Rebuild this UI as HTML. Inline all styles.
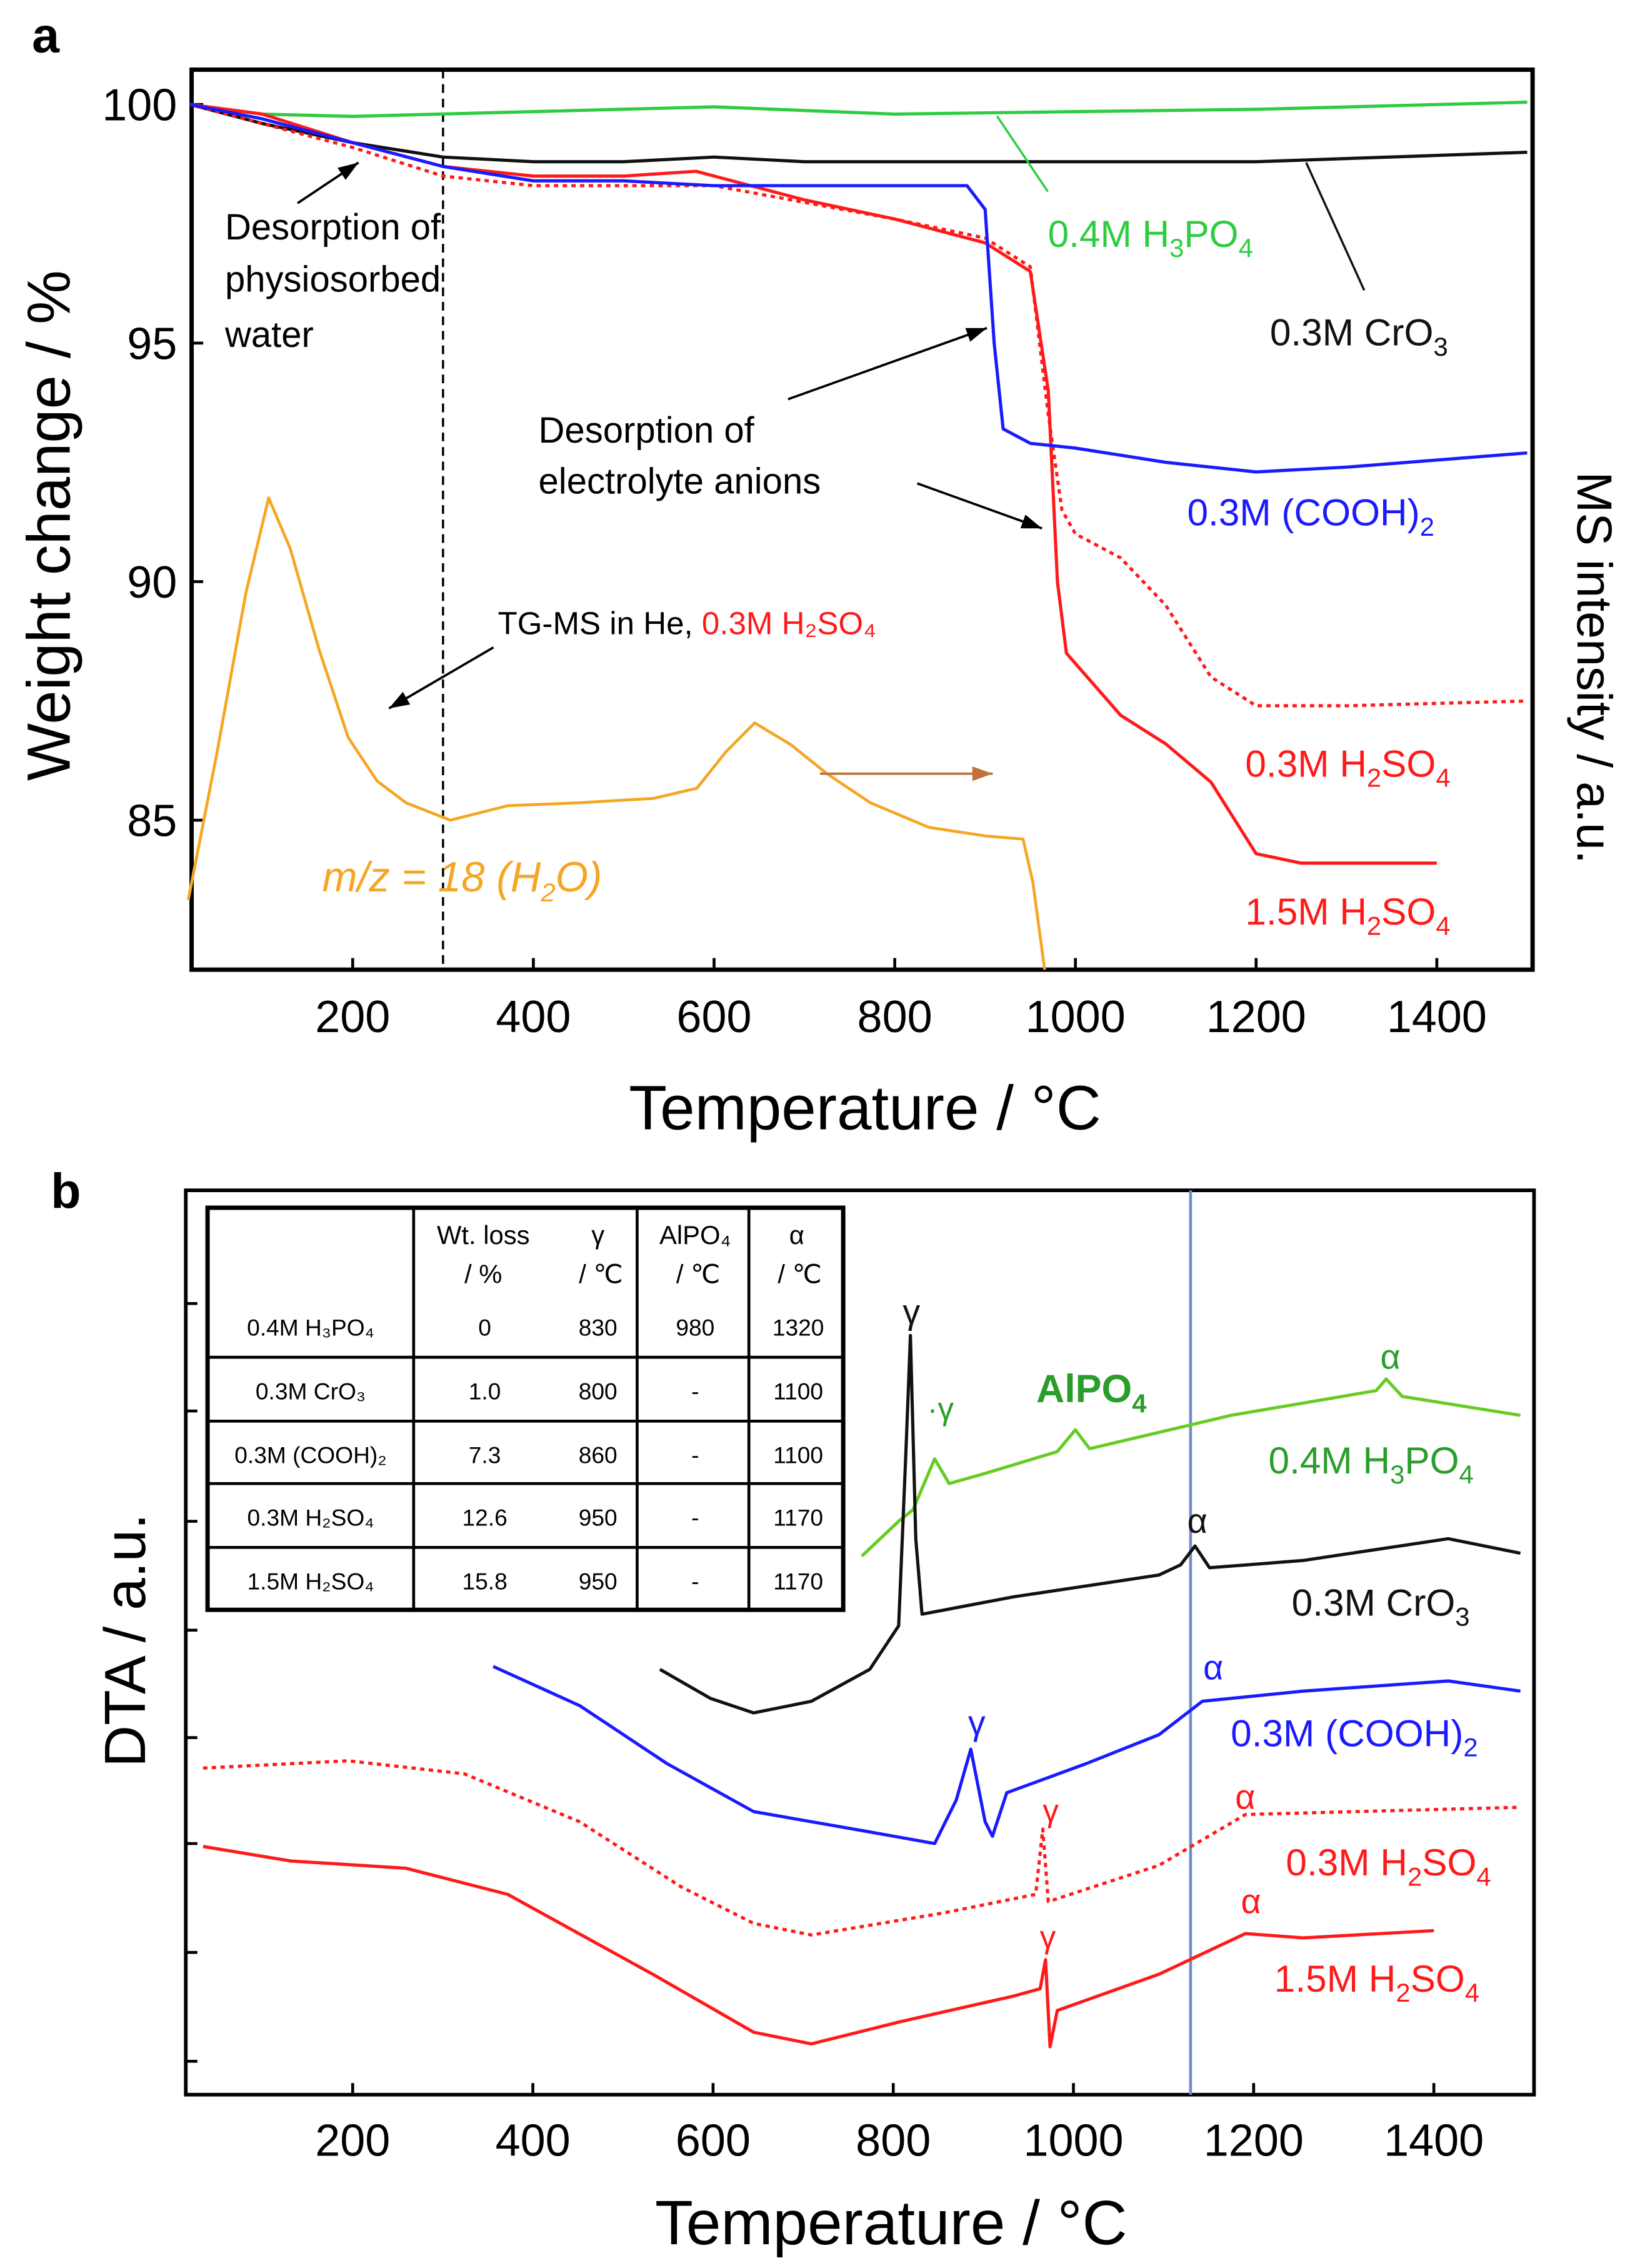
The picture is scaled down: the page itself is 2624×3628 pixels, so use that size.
<!DOCTYPE html>
<html><head><meta charset="utf-8"><style>
html,body{margin:0;padding:0;background:#fff;}
svg{display:block;font-family:"Liberation Sans",sans-serif;}
</style></head><body>
<svg id="fig" width="2624" height="3628" viewBox="0 0 1130 1562.4" xmlns="http://www.w3.org/2000/svg">
<rect x="0" y="0" width="1130" height="1562.4" fill="#fff"/>
<g id="pa"></g>
<g id="pb"></g>
</svg>
<script>
// ---------- Panel a data ----------
const aTicksX = [200,400,600,800,1000,1200,1400];
const aTicksY = [85,90,95,100];
const greenT = [20,100,200,400,600,800,1000,1200,1500];
const greenW = [100,99.8,99.75,99.85,99.95,99.8,99.85,99.9,100.05];
const blackT = [20,100,200,300,400,500,600,700,800,1000,1200,1500];
const blackW = [100,99.6,99.2,98.9,98.8,98.8,98.9,98.8,98.8,98.8,98.8,99.0];
const blueT = [20,100,200,300,400,500,600,700,880,900,910,920,950,1000,1100,1200,1300,1500];
const blueW = [100,99.7,99.2,98.7,98.4,98.4,98.3,98.3,98.3,97.8,95,93.2,92.9,92.8,92.5,92.3,92.4,92.7];
const red15T = [20,100,200,300,400,500,580,700,800,900,950,970,980,990,1050,1100,1150,1200,1250,1400];
const red15W = [100,99.8,99.2,98.7,98.5,98.5,98.6,98.0,97.6,97.1,96.5,94,90,88.5,87.2,86.6,85.8,84.3,84.1,84.1];
const red03T = [20,200,300,400,600,800,900,950,970,985,1000,1050,1100,1150,1200,1300,1500];
const red03W = [100,99.1,98.5,98.3,98.3,97.6,97.2,96.6,93.5,91.5,91.0,90.5,89.5,88.0,87.4,87.4,87.5];
const msT = [18,50,82,107,131,163,195,227,259,308,372,452,533,581,613,645,685,725,773,838,902,942,953,966];
const msV = [4.8,15,26,32.5,29,22,16,13,11.5,10.3,11.3,11.5,11.8,12.5,15,17,15.5,13.5,11.5,9.8,9.2,9,6,0];
// ---------- Panel b data ----------
const bTicksX = [200,400,600,800,1000,1200,1400];
const bTicksY = [2.3,9.8,17.3,24.6,32.0,39.5,47.1,54.5];
const h3poT = [765,806,822,846,862,902,982,1002,1018,1175,1336,1347,1365,1496];
const h3poV = [37.1,39.5,40.3,43.8,42.1,42.8,44.3,45.8,44.5,46.8,48.5,49.3,48.1,46.8];
const croT = [541,597,645,709,774,806,814,819,825,832,934,1095,1119,1135,1151,1255,1416,1496];
const croV = [29.3,27.3,26.3,27.1,29.3,32.3,44.3,52.3,38.3,33.1,34.3,35.8,36.5,37.8,36.3,36.8,38.3,37.3];
const coohT = [356,452,549,645,774,846,870,886,902,910,926,1014,1095,1143,1255,1416,1496];
const coohV = [29.5,26.8,22.8,19.5,18.1,17.3,20.3,23.8,18.8,17.8,20.8,22.8,24.8,27.1,27.8,28.5,27.8];
const s03T = [34,195,324,452,565,645,709,854,958,966,972,1095,1191,1496];
const s03V = [22.5,23,22.1,18.8,14.3,11.8,11,12.5,13.8,18.3,13.3,15.8,19.3,19.8];
const s15T = [34,131,259,372,533,645,709,806,934,963,969,974,982,1095,1191,1255,1400];
const s15V = [17.1,16.1,15.6,13.8,8.3,4.3,3.5,5,6.8,7.3,9.3,3.3,5.8,8.3,11.1,10.8,11.3];
const tableRows = [["0.4M H₃PO₄","0","830","980","1320"],["0.3M CrO₃","1.0","800","-","1100"],["0.3M (COOH)₂","7.3","860","-","1100"],["0.3M H₂SO₄","12.6","950","-","1170"],["1.5M H₂SO₄","15.8","950","-","1170"]];

const NS="http://www.w3.org/2000/svg";
function mk(parent,tag,attrs,text){const e=document.createElementNS(NS,tag);for(const k in attrs)e.setAttribute(k,attrs[k]);if(text!==undefined)e.textContent=text;parent.appendChild(e);return e;}

const xA = t => 243 + (t-200)*0.6225;
const yA = w => 72 + (100-w)*32.87;
const yMS = v => 668 - v*10;
const xB = t => 243 + (t-200)*0.6208;
const yB = v => 1443 - v*10;

function line(parent,T,V,fx,fy,color,w,dash,name){
  const d=T.map((t,i)=>(i?'L':'M')+fx(t).toFixed(1)+' '+fy(V[i]).toFixed(1)).join(' ');
  const p=mk(parent,'path',{d:d,fill:'none',stroke:color,'stroke-width':w,'stroke-linejoin':'round'});
  if(dash)p.setAttribute('stroke-dasharray',dash);
  
  
  return p;
}
function txt(parent,x,y,s,size,color,name,anchor,extra){
  const t=mk(parent,'text',Object.assign({x:x,y:y,'font-size':size,fill:color,'text-anchor':anchor||'start'},extra||{}));
  t.innerHTML=s;
  
  
  return t;
}
function arrow(parent,x1,y1,x2,y2,color,name){
  const g=mk(parent,'g',{});
  
  
  mk(g,'line',{x1:x1,y1:y1,x2:x2,y2:y2,stroke:color,'stroke-width':1.6});
  const a=Math.atan2(y2-y1,x2-x1),L=14,W=5;
  const p=[[x2,y2],[x2-L*Math.cos(a)+W*Math.sin(a),y2-L*Math.sin(a)-W*Math.cos(a)],[x2-L*Math.cos(a)-W*Math.sin(a),y2-L*Math.sin(a)+W*Math.cos(a)]];
  mk(g,'polygon',{points:p.map(q=>q.join(',')).join(' '),fill:color});
}

// ---------- Panel a ----------
const pa=document.getElementById('pa');
txt(pa,22,36,'a',34,'#000','panel-a-label','start',{'font-weight':'bold'});
const frameA=mk(pa,'rect',{x:132,y:48,width:924,height:620,fill:'none',stroke:'#000','stroke-width':3});


aTicksX.forEach(t=>{
  const l=mk(pa,'line',{x1:xA(t),y1:668,x2:xA(t),y2:660,stroke:'#000','stroke-width':2});
  
  
  txt(pa,xA(t),711,t,31,'#000','x-tick-label-a','middle');
});
aTicksY.forEach(w=>{
  const l=mk(pa,'line',{x1:132,y1:yA(w),x2:140,y2:yA(w),stroke:'#000','stroke-width':2});
  
  
  txt(pa,122,yA(w)+11,w,31,'#000','y-tick-label-a','end');
});
txt(pa,596,778,'Temperature / °C',43,'#000','x-axis-title-a','middle');
txt(pa,48,362,'Weight change / %',42,'#000','y-axis-title-a','middle',{transform:'rotate(-90 48 362)'});
txt(pa,1087,460,'MS intensity / a.u.',34,'#000','y2-axis-title-a','middle',{transform:'rotate(90 1087 460)'});
const vd=mk(pa,'line',{x1:xA(300),y1:48,x2:xA(300),y2:668,stroke:'#000','stroke-width':1.5,'stroke-dasharray':'6,4'});


line(pa,msT,msV,xA,yMS,'#f5a623',2,null,'ms-h2o-line');
line(pa,greenT,greenW,xA,yA,'#2ecc40',2.2,null,'h3po4-tg-line');
line(pa,blackT,blackW,xA,yA,'#111',2.2,null,'cro3-tg-line');
line(pa,red03T,red03W,xA,yA,'#ff1a1a',2.2,'3,3','h2so4-03-tg-line');
line(pa,red15T,red15W,xA,yA,'#ff1a1a',2.2,null,'h2so4-15-tg-line');
line(pa,blueT,blueW,xA,yA,'#1a1aff',2.2,null,'cooh-tg-line');
txt(pa,155,165,'Desorption of',25,'#000','annot-desorption-water');
txt(pa,155,201,'physiosorbed',25,'#000','annot-desorption-water-2');
txt(pa,155,239,'water',25,'#000','annot-desorption-water-3');
arrow(pa,205,140,247,112,'#000','arrow-water');
txt(pa,371,305,'Desorption of',25,'#000','annot-anions');
txt(pa,371,340,'electrolyte anions',25,'#000','annot-anions-2');
arrow(pa,543,275,680,226,'#000','arrow-anions-1');
arrow(pa,632,333,718,364,'#000','arrow-anions-2');
txt(pa,343,437,'TG-MS in He, <tspan fill="#ff1a1a">0.3M H₂SO₄</tspan>',22,'#000','annot-tgms');
arrow(pa,340,446,268,488,'#000','arrow-tgms');
arrow(pa,565,533,684,533,'#c0703a','arrow-ms-right-axis');
txt(pa,222,614,'m/z = 18 (H<tspan dy="7" font-size="18">2</tspan><tspan dy="-7">O)</tspan>',29,'#f5a623','label-ms-h2o','start',{'font-style':'italic'});
txt(pa,722,170,'0.4M H<tspan dy="7" font-size="18">3</tspan><tspan dy="-7">PO</tspan><tspan dy="7" font-size="18">4</tspan>',26,'#2ecc40','label-h3po4-a');
const gl=mk(pa,'line',{x1:722,y1:132,x2:687,y2:80,stroke:'#2ecc40','stroke-width':1.5});


txt(pa,875,238,'0.3M CrO<tspan dy="7" font-size="18">3</tspan>',26,'#111','label-cro3-a');
const bl=mk(pa,'line',{x1:940,y1:200,x2:900,y2:112,stroke:'#111','stroke-width':1.5});


txt(pa,818,362,'0.3M (COOH)<tspan dy="7" font-size="18">2</tspan>',26,'#1a1aff','label-cooh-a');
txt(pa,858,535,'0.3M H<tspan dy="7" font-size="18">2</tspan><tspan dy="-7">SO</tspan><tspan dy="7" font-size="18">4</tspan>',26,'#ff1a1a','label-h2so4-03-a');
txt(pa,858,637,'1.5M H<tspan dy="7" font-size="18">2</tspan><tspan dy="-7">SO</tspan><tspan dy="7" font-size="18">4</tspan>',26,'#ff1a1a','label-h2so4-15-a');

// ---------- Panel b ----------
const pb=document.getElementById('pb');
txt(pb,35,832,'b',34,'#000','panel-b-label','start',{'font-weight':'bold'});
const frameB=mk(pb,'rect',{x:128,y:820,width:929,height:623,fill:'none',stroke:'#000','stroke-width':2.5});


bTicksX.forEach(t=>{
  const l=mk(pb,'line',{x1:xB(t),y1:1443,x2:xB(t),y2:1435,stroke:'#000','stroke-width':2});
  
  
  txt(pb,xB(t),1485,t,31,'#000','x-tick-label-b','middle');
});
bTicksY.forEach(v=>{
  const l=mk(pb,'line',{x1:128,y1:yB(v),x2:136,y2:yB(v),stroke:'#000','stroke-width':2});
  
  
});
txt(pb,614,1546,'Temperature / °C',43,'#000','x-axis-title-b','middle');
txt(pb,100,1130,'DTA / a.u.',40,'#000','y-axis-title-b','middle',{transform:'rotate(-90 100 1130)'});
const vb=mk(pb,'line',{x1:xB(1130),y1:820,x2:xB(1130),y2:1443,stroke:'#6c8ecf','stroke-width':2});


line(pb,h3poT,h3poV,xB,yB,'#66cc22',2.2,null,'h3po4-dta-line');
line(pb,croT,croV,xB,yB,'#111',2.2,null,'cro3-dta-line');
line(pb,coohT,coohV,xB,yB,'#1a1aff',2.2,null,'cooh-dta-line');
line(pb,s03T,s03V,xB,yB,'#ff1a1a',2.2,'3,3','h2so4-03-dta-line');
line(pb,s15T,s15V,xB,yB,'#ff1a1a',2.2,null,'h2so4-15-dta-line');
txt(pb,628,912,'γ',24,'#111','gamma-cro3','middle');
txt(pb,648,978,'·γ',22,'#2a9d2a','gamma-h3po4','middle');
txt(pb,752,966,'AlPO<tspan dy="7" font-size="18">4</tspan>',27,'#2a9d2a','label-alpo4','middle',{'font-weight':'bold'});
txt(pb,958,943,'α',24,'#2a9d2a','alpha-h3po4','middle');
txt(pb,874,1015,'0.4M H<tspan dy="7" font-size="18">3</tspan><tspan dy="-7">PO</tspan><tspan dy="7" font-size="18">4</tspan>',26,'#2a9d2a','label-h3po4-b');
txt(pb,825,1056,'α',24,'#111','alpha-cro3','middle');
txt(pb,890,1113,'0.3M CrO<tspan dy="7" font-size="18">3</tspan>',26,'#111','label-cro3-b');
txt(pb,673,1195,'γ',24,'#1a1aff','gamma-cooh','middle');
txt(pb,836,1157,'α',24,'#1a1aff','alpha-cooh','middle');
txt(pb,848,1203,'0.3M (COOH)<tspan dy="7" font-size="18">2</tspan>',26,'#1a1aff','label-cooh-b');
txt(pb,724,1255,'γ',22,'#ff1a1a','gamma-h2so4-03','middle');
txt(pb,858,1246,'α',24,'#ff1a1a','alpha-h2so4-03','middle');
txt(pb,886,1292,'0.3M H<tspan dy="7" font-size="18">2</tspan><tspan dy="-7">SO</tspan><tspan dy="7" font-size="18">4</tspan>',26,'#ff1a1a','label-h2so4-03-b');
txt(pb,722,1342,'γ',22,'#ff1a1a','gamma-h2so4-15','middle');
txt(pb,862,1318,'α',24,'#ff1a1a','alpha-h2so4-15','middle');
txt(pb,878,1372,'1.5M H<tspan dy="7" font-size="18">2</tspan><tspan dy="-7">SO</tspan><tspan dy="7" font-size="18">4</tspan>',26,'#ff1a1a','label-h2so4-15-b');

// table
const tb=mk(pb,'g',{});


mk(tb,'rect',{x:143,y:832,width:438,height:277,fill:'#fff',stroke:'#000','stroke-width':3});
const colX=[285,439,516];
const rowY=[832,935,979,1022,1066,1109];
colX.forEach(x=>mk(tb,'line',{x1:x,y1:832,x2:x,y2:1109,stroke:'#000','stroke-width':2}));
rowY.slice(1,5).forEach(y=>mk(tb,'line',{x1:143,y1:y,x2:581,y2:y,stroke:'#000','stroke-width':2}));
const hdr1=['Wt. loss','γ','AlPO₄','α'], hdr2=['/ %','/ ℃','/ ℃','/ ℃'];
const hx=[333,412,479,549];
hdr1.forEach((h,i)=>txt(tb,hx[i],857,h,18,'#000','table-header','middle'));
hdr2.forEach((h,i)=>txt(tb,hx[i]+(i==0?0:2),884,h,18,'#000','table-header-unit','middle'));
const cx=[214,334,412,479,550];
tableRows.forEach((r,i)=>{
  const y=(i==0?920:rowY[i]+29);
  r.forEach((c,j)=>txt(tb,cx[j],y,c,16,'#000','table-cell','middle'));
});
</script>
</body></html>
